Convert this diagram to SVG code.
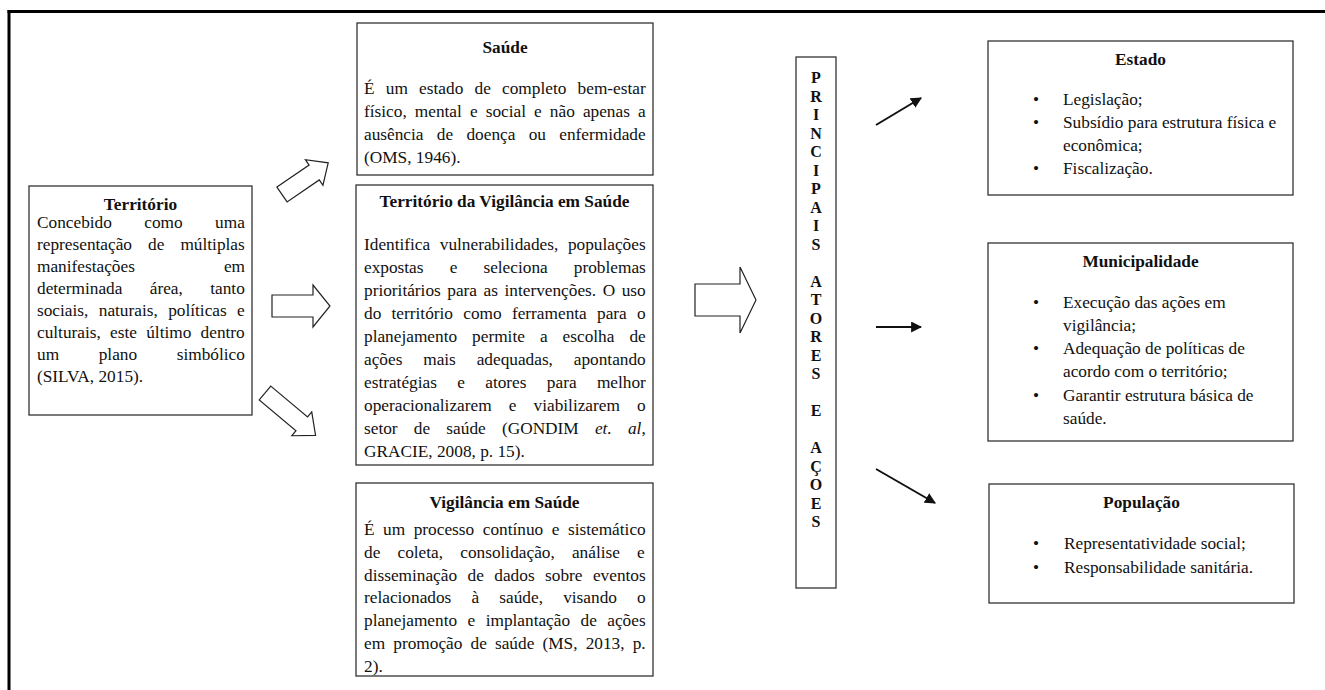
<svg xmlns="http://www.w3.org/2000/svg" width="1325" height="690" viewBox="0 0 1325 690">
<defs>
<style>
.box{fill:#fff;stroke:#333;stroke-width:1.3}
.t{font-family:"Liberation Serif","Times New Roman",serif;font-size:17.3px;fill:#111}
.b{font-weight:bold}
.c{text-anchor:middle}
.e{text-anchor:end}
.v{font-family:"Liberation Serif","Times New Roman",serif;font-size:16px;font-weight:bold;fill:#111;text-anchor:middle}
.hollow{fill:#fff;stroke:#222;stroke-width:1.2;stroke-linejoin:miter}
.thin{stroke:#111;stroke-width:2;fill:none}
</style>
<marker id="ah" viewBox="0 0 10 10" refX="9" refY="5" markerWidth="5.5" markerHeight="5.5" orient="auto" markerUnits="strokeWidth">
<path d="M0,0 L10,5 L0,10 z" fill="#111"/>
</marker>
</defs>
<rect width="1325" height="690" fill="#fff"/>
<g id="frame">
<line x1="7.5" y1="11.5" x2="1325" y2="11.5" stroke="#000" stroke-width="3"/>
<line x1="9" y1="10" x2="9" y2="690" stroke="#000" stroke-width="3"/>
</g>

<g id="territorio">
<rect class="box" x="29" y="186" width="223" height="229"/>
<text class="t b c" x="140.5" y="210">Território</text>
<text class="t" x="37" y="228" style="word-spacing:28.1px">Concebido como uma</text>
<text class="t" x="37" y="250" style="word-spacing:11.75px">representação de múltiplas</text>
<text class="t" x="37" y="272">manifestações</text><text class="t e" x="245" y="272">em</text>
<text class="t" x="37" y="294" style="word-spacing:23.05px">determinada área, tanto</text>
<text class="t" x="37" y="316" style="word-spacing:6.07px">sociais, naturais, políticas e</text>
<text class="t" x="37" y="338" style="word-spacing:4.93px">culturais, este último dentro</text>
<text class="t" x="37" y="360" style="word-spacing:35.3px">um plano simbólico</text>
<text class="t" x="37" y="382">(SILVA, 2015).</text>
</g>

<g id="saude">
<rect class="box" x="357" y="23" width="296" height="152"/>
<text class="t b c" x="505" y="53">Saúde</text>
<text class="t" x="364" y="94" style="word-spacing:6.92px">É um estado de completo bem-estar</text>
<text class="t" x="364" y="117" style="word-spacing:3.77px">físico, mental e social e não apenas a</text>
<text class="t" x="364" y="140" style="word-spacing:9px">ausência de doença ou enfermidade</text>
<text class="t" x="364" y="163">(OMS, 1946).</text>
</g>

<g id="territorio-vigilancia">
<rect class="box" x="356" y="185" width="297" height="280"/>
<text class="t b c" x="504.5" y="207">Território da Vigilância em Saúde</text>
<text class="t" x="364" y="250" style="word-spacing:5.26px">Identifica vulnerabilidades, populações</text>
<text class="t" x="364" y="273" style="word-spacing:21.8px">expostas e seleciona problemas</text>
<text class="t" x="364" y="296" style="word-spacing:2.2px">prioritários para as intervenções. O uso</text>
<text class="t" x="364" y="319" style="word-spacing:5.96px">do território como ferramenta para o</text>
<text class="t" x="364" y="342" style="word-spacing:10.7px">planejamento permite a escolha de</text>
<text class="t" x="364" y="365" style="word-spacing:16.5px">ações mais adequadas, apontando</text>
<text class="t" x="364" y="388" style="word-spacing:16px">estratégias e atores para melhor</text>
<text class="t" x="364" y="411" style="word-spacing:12.8px">operacionalizarem e viabilizarem o</text>
<text class="t" x="364" y="434" style="word-spacing:11.9px">setor de saúde (GONDIM <tspan font-style="italic">et. al</tspan>,</text>
<text class="t" x="364" y="457">GRACIE, 2008, p. 15).</text>
</g>

<g id="vigilancia">
<rect class="box" x="356" y="483" width="297" height="193"/>
<text class="t b c" x="504.5" y="508">Vigilância em Saúde</text>
<text class="t" x="364" y="535" style="word-spacing:4.22px">É um processo contínuo e sistemático</text>
<text class="t" x="364" y="558" style="word-spacing:12.85px">de coleta, consolidação, análise e</text>
<text class="t" x="364" y="581" style="word-spacing:6.12px">disseminação de dados sobre eventos</text>
<text class="t" x="364" y="603" style="word-spacing:15.85px">relacionados à saúde, visando o</text>
<text class="t" x="364" y="626" style="word-spacing:6.12px">planejamento e implantação de ações</text>
<text class="t" x="364" y="649" style="word-spacing:3.83px">em promoção de saúde (MS, 2013, p.</text>
<text class="t" x="364" y="672">2).</text>
</g>

<g id="principais">
<rect class="box" x="796" y="57" width="40" height="531"/>
<text class="v" x="816" y="83">P</text>
<text class="v" x="816" y="101.5">R</text>
<text class="v" x="816" y="120">I</text>
<text class="v" x="816" y="138.5">N</text>
<text class="v" x="816" y="157">C</text>
<text class="v" x="816" y="175.5">I</text>
<text class="v" x="816" y="194">P</text>
<text class="v" x="816" y="212.5">A</text>
<text class="v" x="816" y="231">I</text>
<text class="v" x="816" y="249.5">S</text>
<text class="v" x="816" y="286.5">A</text>
<text class="v" x="816" y="305">T</text>
<text class="v" x="816" y="323.5">O</text>
<text class="v" x="816" y="342">R</text>
<text class="v" x="816" y="360.5">E</text>
<text class="v" x="816" y="379">S</text>
<text class="v" x="816" y="416">E</text>
<text class="v" x="816" y="453">A</text>
<text class="v" x="816" y="471.5">Ç</text>
<text class="v" x="816" y="490">O</text>
<text class="v" x="816" y="508.5">E</text>
<text class="v" x="816" y="527">S</text>
</g>

<g id="estado">
<rect class="box" x="988" y="41" width="305" height="154"/>
<text class="t b c" x="1140.5" y="65">Estado</text>
<text class="t c" x="1036" y="105">•</text><text class="t" x="1063" y="105">Legislação;</text>
<text class="t c" x="1036" y="128">•</text><text class="t" x="1063" y="128">Subsídio para estrutura física e</text>
<text class="t" x="1063" y="151">econômica;</text>
<text class="t c" x="1036" y="174">•</text><text class="t" x="1063" y="174">Fiscalização.</text>
</g>

<g id="municipalidade">
<rect class="box" x="988" y="243" width="305" height="198"/>
<text class="t b c" x="1140.5" y="267">Municipalidade</text>
<text class="t c" x="1036" y="308">•</text><text class="t" x="1063" y="308">Execução das ações em</text>
<text class="t" x="1063" y="331">vigilância;</text>
<text class="t c" x="1036" y="354">•</text><text class="t" x="1063" y="354">Adequação de políticas de</text>
<text class="t" x="1063" y="377">acordo com o território;</text>
<text class="t c" x="1036" y="401">•</text><text class="t" x="1063" y="401">Garantir estrutura básica de</text>
<text class="t" x="1063" y="424">saúde.</text>
</g>

<g id="populacao">
<rect class="box" x="989" y="484" width="305" height="119"/>
<text class="t b c" x="1141.5" y="508">População</text>
<text class="t c" x="1036" y="549">•</text><text class="t" x="1064" y="549">Representatividade social;</text>
<text class="t c" x="1036" y="573">•</text><text class="t" x="1064" y="573">Responsabilidade sanitária.</text>
</g>

<g id="connectors">
<polygon class="hollow" transform="translate(282,194.5) rotate(-34.4)" points="0,-9 39,-9 39,-15.5 56,0 39,15.5 39,9 0,9"/>
<polygon class="hollow" points="272,295 313,295 313,285 330,306 313,327 313,317 272,317"/>
<polygon class="hollow" transform="translate(265,393) rotate(40)" points="0,-9 48,-9 48,-15.5 66,0 48,15.5 48,9 0,9"/>
<polygon class="hollow" points="695,284 740,284 740,267 756,300 740,333 740,316 695,316"/>
<line class="thin" x1="876" y1="125" x2="921" y2="98" marker-end="url(#ah)"/>
<line class="thin" x1="876" y1="327" x2="921" y2="327" marker-end="url(#ah)"/>
<line class="thin" x1="876" y1="469" x2="935" y2="503" marker-end="url(#ah)"/>
</g>
</svg>
